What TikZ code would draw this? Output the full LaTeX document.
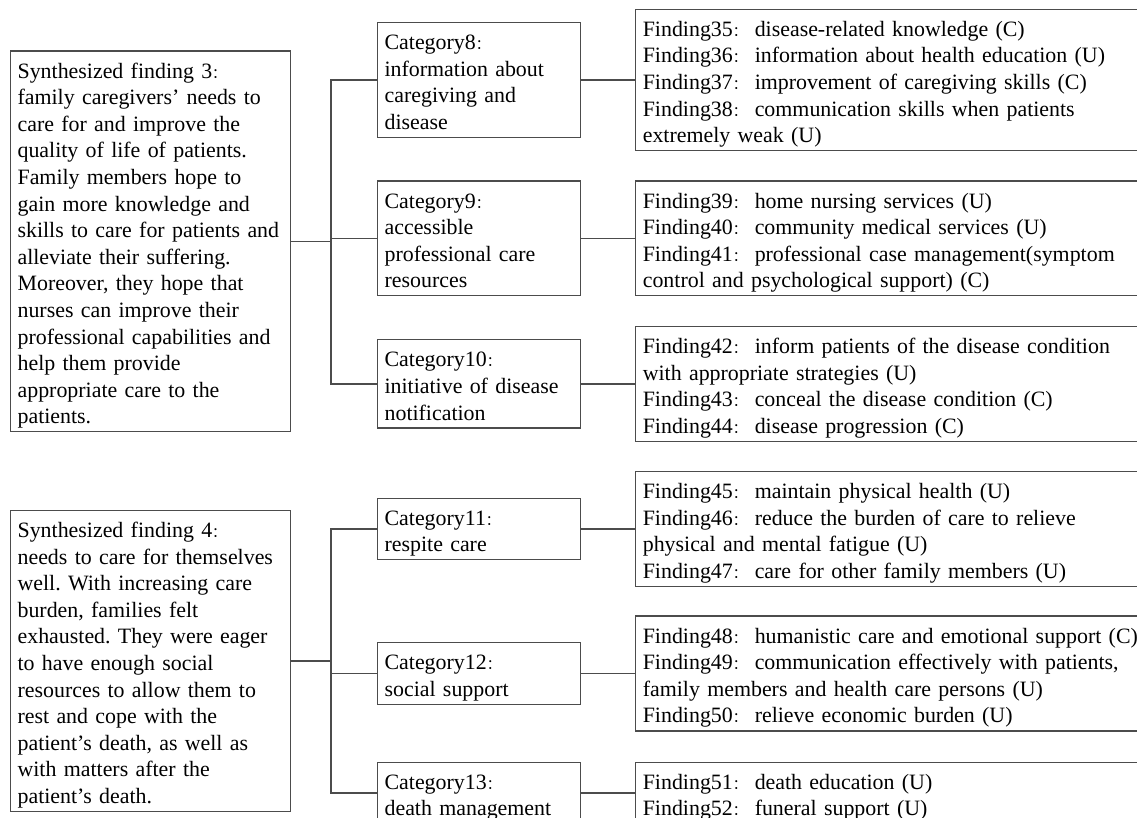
\documentclass[tikz,border=0pt]{standalone}
\usepackage{fontspec}
\setmainfont{Liberation Serif}
\newfontfamily\cjk{Noto Sans CJK SC}
\usetikzlibrary{positioning}
\newcommand{\cc}{\makebox[1em][l]{\fontsize{7}{7}\cjk ：}}
\frenchspacing

\begin{document}
\begin{tikzpicture}[x=0.5pt,y=-0.5pt,
  box/.style={draw=black!70,line width=0.6pt,align=left,inner xsep=3.5pt,inner ysep=1.5pt,
    font=\fontsize{10.95}{13.3}\selectfont,
    execute at begin node=\rule{0pt}{12pt},execute at end node=\rule[-2.5pt]{0pt}{2.5pt}},
  synbox/.style={box,text width=133pt,anchor=west},
  catbox/.style={box,text width=94.5pt,anchor=west},
  findbox/.style={box,text width=261pt},
  link/.style={draw=black!70,line width=0.6pt}]
\useasboundingbox (0,0) rectangle (1137,818);
\clip (0,0) rectangle (1137,818);

% synthesized finding 3
\node[synbox] (syn3) at (10,241.5) {Synthesized finding 3\cc\\
family caregivers’ needs to\\
care for and improve the\\
quality of life of patients.\\
Family members hope to\\
gain more knowledge and\\
skills to care for patients and\\
alleviate their suffering.\\
Moreover, they hope that\\
nurses can improve their\\
professional capabilities and\\
help them provide\\
appropriate care to the\\
patients.};
\node[catbox] (cat8) at (377,80) {Category8\cc\\information about\\caregiving and\\disease};
\node[catbox] (cat9) at (377,238.5) {Category9\cc\\accessible\\professional care\\resources};
\node[catbox] (cat10) at (377,384) {Category10\cc\\initiative of disease\\notification};
\node[findbox,right=27pt of cat8] (fnd8) {Finding35\cc disease-related knowledge (C)\\
Finding36\cc information about health education (U)\\
Finding37\cc improvement of caregiving skills (C)\\
Finding38\cc communication skills when patients\\
extremely weak (U)};
\node[findbox,right=27pt of cat9] (fnd9) {Finding39\cc home nursing services (U)\\
Finding40\cc community medical services (U)\\
Finding41\cc professional case management(symptom\\
control and psychological support) (C)};
\node[findbox,right=27pt of cat10] (fnd10) {Finding42\cc inform patients of the disease condition\\
with appropriate strategies (U)\\
Finding43\cc conceal the disease condition (C)\\
Finding44\cc disease progression (C)};
\coordinate (j3) at (331,241.5);
\draw[link] (syn3) -- (j3);
\draw[link] (cat8.west) -| (j3) |- (cat10.west);
\draw[link] (j3) |- (cat9.west);
\draw[link] (cat8) -- (fnd8);
\draw[link] (cat9) -- (fnd9);
\draw[link] (cat10) -- (fnd10);

% synthesized finding 4
\node[synbox] (syn4) at (10,661) {Synthesized finding 4\cc\\
needs to care for themselves\\
well. With increasing care\\
burden, families felt\\
exhausted. They were eager\\
to have enough social\\
resources to allow them to\\
rest and cope with the\\
patient’s death, as well as\\
with matters after the\\
patient’s death.};
\node[catbox] (cat11) at (377,529) {Category11\cc\\respite care};
\node[catbox] (cat12) at (377,673.5) {Category12\cc\\social support};
\node[catbox] (cat13) at (377,793) {Category13\cc\\death management};
\node[findbox,right=27pt of cat11] (fnd11) {Finding45\cc maintain physical health (U)\\
Finding46\cc reduce the burden of care to relieve\\
physical and mental fatigue (U)\\
Finding47\cc care for other family members (U)};
\node[findbox,right=27pt of cat12] (fnd12) {Finding48\cc humanistic care and emotional support (C)\\
Finding49\cc communication effectively with patients,\\
family members and health care persons (U)\\
Finding50\cc relieve economic burden (U)};
\node[findbox,right=27pt of cat13] (fnd13) {Finding51\cc death education (U)\\
Finding52\cc funeral support (U)};
\coordinate (j4) at (331,661);
\draw[link] (syn4) -- (j4);
\draw[link] (cat11.west) -| (j4) |- (cat13.west);
\draw[link] (j4) |- (cat12.west);
\draw[link] (cat11) -- (fnd11);
\draw[link] (cat12) -- (fnd12);
\draw[link] (cat13) -- (fnd13);
\end{tikzpicture}
\end{document}
